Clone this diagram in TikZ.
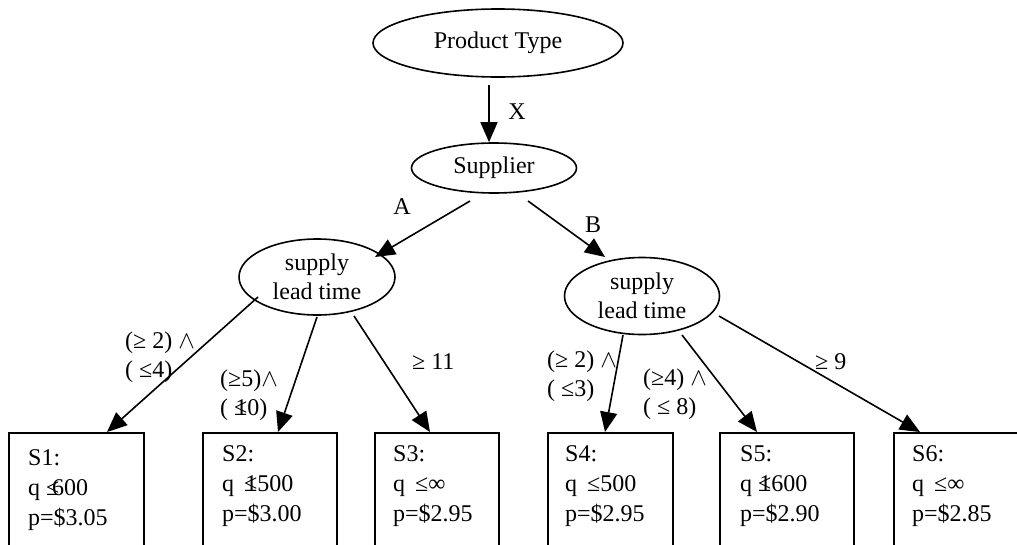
\documentclass[tikz,border=0pt]{standalone}
\usepackage{fontspec}
\setmainfont{Liberation Serif}
\usetikzlibrary{arrows.meta,shapes.geometric,calc}
\begin{document}
\begin{tikzpicture}[x=1pt,y=-1pt,
  every node/.style={font=\fontsize{24}{29}\selectfont, inner sep=0pt},
  oval/.style={draw, ellipse, line width=1.6pt, align=center},
  box/.style={draw, rectangle, line width=1.6pt, anchor=north west, minimum height=140pt},
  conn/.style={line width=1.6pt, -{Triangle[length=20pt,width=17pt]}},
  lbl/.style={align=left, anchor=west},
  boxtext/.style={align=left, anchor=west, font=\fontsize{24}{30}\selectfont},
]
\useasboundingbox (0,0) rectangle (1017,544);
\clip (0,0) rectangle (1017,544);
% ellipses
\node[oval, minimum width=250pt, minimum height=68pt] (pt) at (498,43) {Product Type};
\node[oval, minimum width=165pt, minimum height=50pt] (sup) at (494,168) {Supplier};
\node[oval, minimum width=156pt, minimum height=76pt] (lt1) at (317,277) {supply\\lead time};
\node[oval, minimum width=155pt, minimum height=77pt] (lt2) at (642,296) {supply\\lead time};
% boxes
\node[box, minimum width=135pt] (s1) at (8,432) {};
\node[box, minimum width=134pt] (s2) at (202,432) {};
\node[box, minimum width=124pt] (s3) at (374,432) {};
\node[box, minimum width=125pt] (s4) at (547,432) {};
\node[box, minimum width=134pt] (s5) at (719,432) {};
\node[box, minimum width=140pt] (s6) at (893,432) {};
% box texts
\node[boxtext] (t1) at (28,490) {S1:\\q ≤\kern-.3em600\\p=\$3.05};
\node[boxtext] (t2) at (222,486) {S2:\\q \,≤\kern-.5em1500\\p=\$3.00};
\node[boxtext] (t3) at (393,486) {S3:\\q \,≤∞\\p=\$2.95};
\node[boxtext] (t4) at (565,486) {S4:\\q \,≤500\\p=\$2.95};
\node[boxtext] (t5) at (740,486) {S5:\\q ≤\kern-.5em1600\\p=\$2.90};
\node[boxtext] (t6) at (912,486) {S6:\\q \,≤∞\\p=\$2.85};
% connectors
\draw[conn] ($(pt.center)+(-9,42)$) -- ($(sup.north)+(-5,0)$);
\draw[conn] ($(sup.center)+(-24,33)$) -- ($(lt1.center)+(58,-20)$);
\draw[conn] ($(sup.center)+(34,33)$) -- ($(lt2.center)+(-37,-39)$);
\draw[conn] ($(lt1.center)+(-59,20)$) -- ($(s1.north west)+(99,0)$);
\draw[conn] ($(lt1.center)+(0,40)$) -- ($(s2.north west)+(76,0)$);
\draw[conn] ($(lt1.center)+(37,39)$) -- ($(s3.north west)+(56,0)$);
\draw[conn] ($(lt2.center)+(-19,39)$) -- ($(s4.north west)+(58,0)$);
\draw[conn] ($(lt2.center)+(40,39)$) -- ($(s5.north west)+(38,0)$);
\draw[conn] ($(lt2.center)+(77,20)$) -- ($(s6.north west)+(27,0)$);
% labels
\node (lx) at (517,112) {X};
\node (la) at (402,207) {A};
\node (lb) at (593,225) {B};
\node[lbl] (c1) at (125,357) {(≥ 2) $\wedge$\\( ≤4)};
\node[lbl] (c2) at (220,395) {(≥5)$\wedge$\\( ≤\kern-.5em10)};
\node[lbl] (c3) at (412,362) {≥ 11};
\node[lbl] (c4) at (547,376) {(≥ 2) $\wedge$\\( ≤3)};
\node[lbl] (c5) at (643,394) {(≥4) $\wedge$\\( ≤ 8)};
\node[lbl] (c6) at (815,362) {≥ 9};
\end{tikzpicture}
\end{document}
